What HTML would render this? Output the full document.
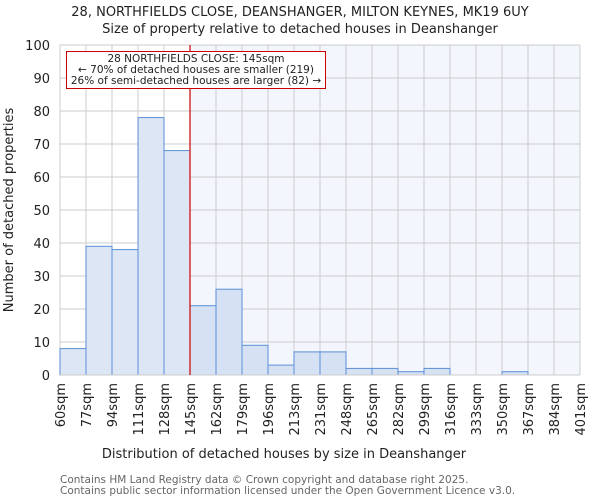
<!DOCTYPE html>
<html><head><meta charset="utf-8"><style>
body{margin:0;background:#fff;}
svg{display:block;font-family:"DejaVu Sans","Liberation Sans",sans-serif;}
</style></head><body>
<svg id="chart" width="600" height="500">
<text x="300" y="16" text-anchor="middle" font-size="13" fill="#222">28, NORTHFIELDS CLOSE, DEANSHANGER, MILTON KEYNES, MK19 6UY</text>
<text x="300" y="33" text-anchor="middle" font-size="13" fill="#222">Size of property relative to detached houses in Deanshanger</text>
<g id="plot"></g>
<text x="284" y="458" text-anchor="middle" font-size="13" fill="#222">Distribution of detached houses by size in Deanshanger</text>
<text transform="translate(13,210) rotate(-90)" text-anchor="middle" font-size="13" fill="#222">Number of detached properties</text>
<text x="60" y="483" font-size="10.5" fill="#666">Contains HM Land Registry data © Crown copyright and database right 2025.</text>
<text x="60" y="494" font-size="10.5" fill="#666">Contains public sector information licensed under the Open Government Licence v3.0.</text>
</svg>
<script>
const binLabels=["60sqm","77sqm","94sqm","111sqm","128sqm","145sqm","162sqm","179sqm","196sqm","213sqm","231sqm","248sqm","265sqm","282sqm","299sqm","316sqm","333sqm","350sqm","367sqm","384sqm","401sqm"];
const counts=[8,39,38,78,68,21,26,9,3,7,7,2,2,1,2,0,0,1,0,0];
const yTicks=[0,10,20,30,40,50,60,70,80,90,100];
const markerIndex=5;
const NS="http://www.w3.org/2000/svg";
const L=60,R=580,T=45,B=375,yMax=100;
const n=counts.length,bw=(R-L)/n;
const xs=i=>L+i*bw, ys=v=>B-(v/yMax)*(B-T);
const g=document.getElementById('plot');
function mk(tag,attrs){const e=document.createElementNS(NS,tag);for(const k in attrs)e.setAttribute(k,attrs[k]);g.appendChild(e);return e;}
let bg=mk('rect',{x:xs(markerIndex),y:T,width:R-xs(markerIndex),height:B-T,fill:'#f3f6fd'});


for(let i=0;i<=n;i++){let l=mk('line',{x1:xs(i),x2:xs(i),y1:T,y2:B,stroke:'#cccccc','stroke-width':1});

}
yTicks.forEach(t=>{let l=mk('line',{x1:L,x2:R,y1:ys(t),y2:ys(t),stroke:'#cccccc','stroke-width':1});


let tx=mk('text',{x:L-10,y:ys(t)+5,'text-anchor':'end','font-size':13,fill:'#222'});tx.textContent=t;

});
counts.forEach((v,i)=>{let r=mk('rect',{x:xs(i),y:ys(v),width:bw,height:B-ys(v),fill:i<markerIndex?'#dde6f4':'#d6e1f4',stroke:'#5b8fd6','stroke-width':1});

});
binLabels.forEach((s,i)=>{let tx=mk('text',{transform:`translate(${xs(i)+5},${B+8}) rotate(-90)`,'text-anchor':'end','font-size':13,fill:'#222'});tx.textContent=s;

});
let ax=mk('line',{x1:L,x2:R,y1:B,y2:B,stroke:'#ccc'});


let ml=mk('line',{x1:xs(markerIndex),x2:xs(markerIndex),y1:T,y2:B,stroke:'#cc0000','stroke-width':1.2});


let box=mk('rect',{x:66.5,y:51.5,width:259,height:37,fill:'#fff',stroke:'#cc0000','stroke-width':1});


["28 NORTHFIELDS CLOSE: 145sqm","← 70% of detached houses are smaller (219)","26% of semi-detached houses are larger (82) →"].forEach((s,k)=>{let tx=mk('text',{x:196,y:62+k*11,'text-anchor':'middle','font-size':10.5,fill:'#222'});tx.textContent=s;

});
</script>
</body></html>
